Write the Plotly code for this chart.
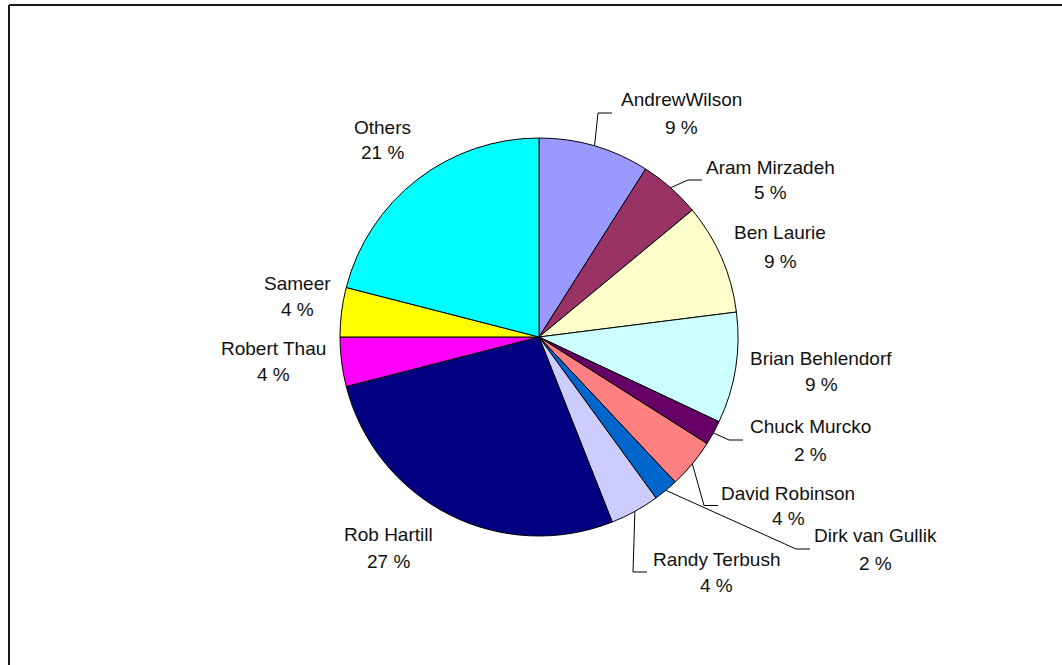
import math
import plotly.graph_objects as go

# Share of contributions per developer (percent), clockwise from 12 o'clock
names = ["AndrewWilson", "Aram Mirzadeh", "Ben Laurie", "Brian Behlendorf",
         "Chuck Murcko", "David Robinson", "Dirk van Gullik", "Randy Terbush",
         "Rob Hartill", "Robert Thau", "Sameer", "Others"]
shares = [9, 5, 9, 9, 2, 4, 2, 4, 27, 4, 4, 21]

colors = ["#9999FF", "#993366", "#FFFFCC", "#CCFFFF", "#660066", "#FF8080",
          "#0066CC", "#CCCCFF", "#000080", "#FF00FF", "#FFFF00", "#00FFFF"]

# Figure geometry (pixels)
W, H = 1062, 665
CX, CY, R = 539, 337, 199

# Label placement in pixels: centre x, first-line y, second-line y,
# and the x where a leader line meets the text (None = no leader)
label_cx = [681, 770, 780, 821, 810, 788, 875, 716, 388, 274, 297, 382]
label_y1 = [99, 167, 232, 358, 426, 493, 535, 559, 534, 348, 283, 127]
label_y2 = [127, 193, 261, 384, 454, 518, 563, 585, 561, 374, 309, 153]
leader_x = [612, 702, None, None, 743, 718, 810, 647, None, None, None, None]


def px(x):
    return x / W


def py(y):
    return 1 - y / H


fig = go.Figure()
fig.add_trace(go.Pie(
    labels=names,
    values=shares,
    sort=False,
    direction="clockwise",
    rotation=0,
    textinfo="none",
    hoverinfo="label+percent",
    marker=dict(colors=colors, line=dict(color="#000000", width=1)),
    domain=dict(x=[px(CX - R), px(CX + R)], y=[py(CY + R), py(CY - R)]),
    showlegend=False,
))

font = dict(family="Liberation Sans, Arial, sans-serif", size=19, color="#111111")
annotations = []
shapes = []
total = sum(shares)
cum = 0.0
for i, (name, v) in enumerate(zip(names, shares)):
    mid = (cum + v / 2) / total * 2 * math.pi
    cum += v
    annotations.append(dict(x=px(label_cx[i]), y=py(label_y1[i]), xref="paper", yref="paper",
                            text=name, showarrow=False, xanchor="center", yanchor="middle",
                            font=font))
    annotations.append(dict(x=px(label_cx[i]), y=py(label_y2[i]), xref="paper", yref="paper",
                            text=f"{v} %", showarrow=False, xanchor="center", yanchor="middle",
                            font=font))
    if leader_x[i] is not None:
        # leader from the slice's rim midpoint to an elbow beside the label
        rx = CX + R * math.sin(mid)
        ry = CY - R * math.cos(mid)
        ym = (label_y1[i] + label_y2[i]) / 2
        ex = leader_x[i] - 14
        path = (f"M {px(rx)},{py(ry)} L {px(ex)},{py(ym)} "
                f"L {px(leader_x[i])},{py(ym)}")
        shapes.append(dict(type="path", path=path, xref="paper", yref="paper",
                           line=dict(color="#000000", width=1), layer="above"))

# chart-area frame (open at the right and bottom edges)
shapes.append(dict(type="line", xref="paper", yref="paper",
                   x0=px(9), y0=py(5), x1=px(W + 5), y1=py(5),
                   line=dict(color="#1a1a1a", width=2)))
shapes.append(dict(type="line", xref="paper", yref="paper",
                   x0=px(9), y0=py(5), x1=px(9), y1=py(H + 5),
                   line=dict(color="#1a1a1a", width=2)))

fig.update_layout(
    width=W, height=H,
    margin=dict(l=0, r=0, t=0, b=0),
    paper_bgcolor="#FFFFFF",
    plot_bgcolor="#FFFFFF",
    annotations=annotations,
    shapes=shapes,
)

fig.write_html("out.html")
